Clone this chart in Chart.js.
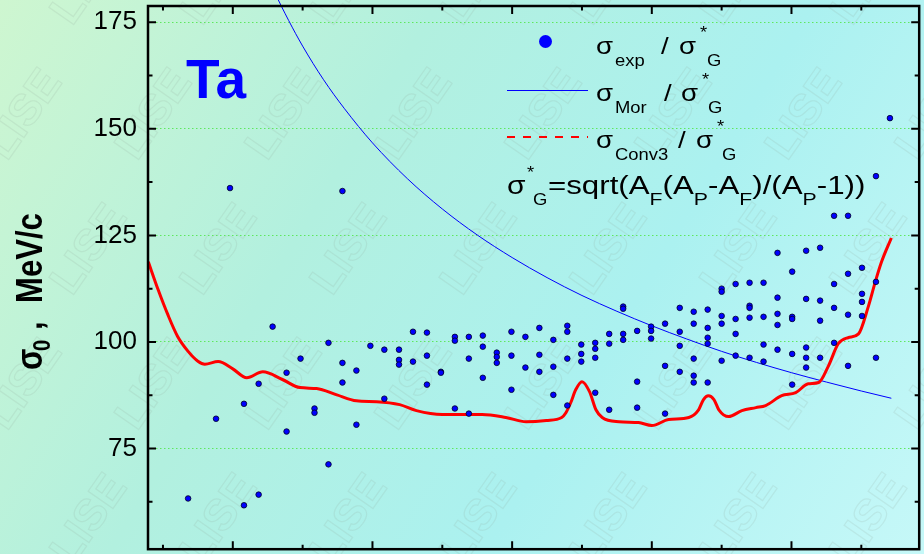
<!DOCTYPE html>
<html>
<head>
<meta charset="utf-8">
<script src="https://cdn.jsdelivr.net/npm/chart.js@4.4.1/dist/chart.umd.min.js"></script>
<style>
html, body { margin: 0; padding: 0; background: #b4f0e6; }
#caja { width: 924px; height: 554px; }
</style>
</head>
<body>
<div id="caja"><canvas id="grafica" width="924" height="554"></canvas></div>
<script>
// sigma_exp / sigma_G* : mass number of fragment and value
const expA = [
    13.6, 17.6, 19.6, 21.6, 21.6, 23.7, 23.7, 25.7, 27.7, 27.7,
    29.7, 31.7, 31.7, 33.7, 33.7, 35.7, 35.7, 35.7, 37.7, 37.7,
    39.7, 41.7, 41.7, 43.8, 43.8, 43.8, 45.8, 45.8, 47.8, 47.8, 47.8,
    49.8, 49.8, 51.8, 51.8, 51.8, 53.8, 53.8, 53.8, 55.8, 55.8, 55.8,
    57.8, 57.8, 57.8, 59.9, 59.9, 59.9, 61.9, 61.9, 63.9, 63.9, 63.9,
    65.9, 65.9, 65.9, 67.9, 67.9, 67.9, 67.9, 69.9, 69.9, 69.9,
    71.9, 71.9, 71.9, 71.9, 73.9, 73.9, 73.9, 75.9, 75.9, 75.9, 75.9,
    77.9, 77.9, 77.9, 79.9, 79.9, 79.9, 81.9, 81.9, 81.9,
    84.0, 84.0, 84.0, 84.0, 86.0, 86.0, 86.0, 86.0, 86.0,
    88.0, 88.0, 88.0, 88.0, 88.0, 90.0, 90.0, 90.0, 90.0, 90.0,
    92.0, 92.0, 92.0, 92.0, 94.0, 94.0, 94.0, 94.0, 94.0,
    96.0, 96.0, 96.0, 96.0, 98.0, 98.0, 98.0, 98.0, 98.0,
    100.1, 100.1, 100.1, 100.1, 100.1, 102.1, 102.1, 102.1, 102.1, 102.1,
    104.1, 104.1, 104.1, 104.1, 106.1, 106.1, 106.1, 106.1,
    108.1, 108.1, 108.1, 108.1, 110.1, 110.1, 110.1, 110.1,
    112.1, 112.1, 112.1, 114.1
];
const expSigma = [
    63.3, 82.0, 136.1, 85.5, 61.7, 90.2, 64.2, 103.6, 92.8, 79.0,
    96.1, 84.4, 83.4, 99.8, 71.3, 95.1, 90.5, 135.4, 93.3, 80.6,
    99.1, 98.2, 86.7, 98.2, 95.8, 94.7, 102.4, 95.4, 102.2, 96.8, 90.0,
    93.0, 92.8, 101.2, 100.3, 84.4, 101.2, 96.1, 83.2, 101.5, 98.9, 91.6,
    97.5, 96.5, 95.1, 102.4, 96.8, 88.8, 101.2, 94.0, 103.3, 97.0, 93.0,
    100.5, 94.2, 87.6, 103.8, 102.4, 96.1, 85.1, 99.4, 97.2, 95.4,
    99.8, 98.4, 96.3, 88.1, 101.9, 99.6, 84.1, 108.3, 107.8, 101.9, 100.5,
    102.6, 90.7, 84.6, 103.6, 102.6, 100.8, 104.3, 94.4, 83.2,
    108.0, 102.4, 99.1, 93.0, 107.1, 104.3, 96.1, 92.1, 90.5,
    107.6, 103.3, 101.0, 99.6, 90.5, 112.5, 111.8, 106.1, 104.3, 95.6,
    113.6, 105.4, 101.9, 96.8, 113.9, 108.5, 108.0, 105.7, 96.3,
    113.9, 105.9, 99.4, 95.4, 120.9, 110.4, 106.6, 104.0, 98.2,
    116.5, 105.9, 105.4, 97.2, 90.0, 121.4, 110.1, 98.7, 96.3, 94.0,
    122.1, 109.7, 105.0, 96.3, 129.6, 113.6, 108.0, 99.8,
    129.6, 116.0, 106.4, 94.4, 117.4, 111.3, 109.4, 106.1,
    138.9, 114.1, 96.3, 152.5
];

// sigma_Mor / sigma_G*
const morA = [24, 26, 28, 30, 33, 36, 40, 45, 50, 55, 60, 65, 70, 75, 80, 85, 90, 95, 100, 105, 110, 114.3];
const morSigma = [189.4, 182.0, 175.4, 169.4, 161.5, 154.7, 146.7, 138.3, 131.2, 125.1, 119.8, 115.1,
    110.9, 107.2, 103.8, 100.7, 97.8, 95.2, 92.8, 90.6, 88.5, 86.8];

// sigma_Conv3 / sigma_G*
const convA = [7.9, 9.3, 10.7, 12.1, 13.6, 15.0, 16.0, 17.9, 20.0, 22.0, 24.3, 27.1, 29.6, 32.0,
    34.9, 37.7, 40.6, 43.9, 46.3, 50.0, 55.7, 59.1, 62.0, 64.9, 67.1, 67.7, 68.4, 69.1, 70.0,
    71.1, 72.0, 72.9, 75.3, 78.1, 80.0, 82.4, 85.3, 86.7, 87.4, 88.1, 88.9, 89.6, 91.0, 92.9,
    94.9, 96.3, 98.6, 100.6, 102.4, 103.9, 105.3, 106.7, 108.1, 109.6, 111.0, 112.0, 112.9, 114.3];
const convSigma = [118.8, 112.3, 106.4, 101.3, 97.8, 95.5, 94.8, 95.4, 93.7, 91.6, 93.0, 91.2, 89.3, 89.1,
    87.6, 86.2, 86.0, 85.3, 83.9, 83.0, 83.0, 82.3, 81.3, 81.6, 82.3, 83.4, 85.8, 88.8, 90.7,
    88.3, 84.1, 82.3, 81.3, 81.1, 80.4, 81.8, 82.3, 84.1, 86.5, 87.4, 86.5, 84.1, 82.5, 83.9,
    84.6, 85.1, 87.4, 88.1, 90.2, 90.5, 94.4, 99.6, 101.0, 101.9, 108.3, 114.1, 118.8, 124.4];

const yMajor = [75, 100, 125, 150, 175];
const yMinor = [62.5, 87.5, 112.5, 137.5, 162.5];
const xMajor = [20, 40, 60, 80, 100];
const xMinor = [10, 30, 50, 70, 90, 110];

const ff = "'Liberation Sans', Arial, sans-serif";

const fondo = {
    id: 'fondo',
    beforeDraw(chart) {
        const ctx = chart.ctx;
        const g = ctx.createLinearGradient(0, 0, 924, 554);
        g.addColorStop(0, '#cef6d0');
        g.addColorStop(0.35, '#b2f0df');
        g.addColorStop(0.65, '#abf1f0');
        g.addColorStop(1, '#c6f8f8');
        ctx.save();
        ctx.fillStyle = g;
        ctx.fillRect(0, 0, 924, 554);
        // watermark
        ctx.font = 'bold 44px ' + ff;
        ctx.textAlign = 'center';
        ctx.textBaseline = 'middle';
        ctx.strokeStyle = 'rgba(140,160,150,0.16)';
        ctx.lineWidth = 1.2;
        let fila = 0;
        for (let y = -20; y < 620; y += 135) {
            for (let x = -40 + (fila % 2) * 65; x < 980; x += 130) {
                ctx.save();
                ctx.translate(x, y);
                ctx.rotate(-55 * Math.PI / 180);
                ctx.strokeText('LISE', 0, 0);
                ctx.restore();
            }
            fila++;
        }
        ctx.restore();
    }
};

const marco = {
    id: 'marco',
    afterDraw(chart) {
        const ctx = chart.ctx;
        const a = chart.chartArea;
        const sx = chart.scales.x, sy = chart.scales.y;
        ctx.save();
        ctx.strokeStyle = '#000';
        ctx.lineWidth = 2.5;
        ctx.strokeRect(a.left, a.top, a.right - a.left, a.bottom - a.top);
        ctx.lineWidth = 2;
        ctx.beginPath();
        const marcasY = (lista, largo) => lista.forEach(v => {
            const p = sy.getPixelForValue(v);
            ctx.moveTo(a.left, p); ctx.lineTo(a.left + largo, p);
            ctx.moveTo(a.right, p); ctx.lineTo(a.right - largo, p);
        });
        const marcasX = (lista, largo) => lista.forEach(v => {
            const p = sx.getPixelForValue(v);
            ctx.moveTo(p, a.top); ctx.lineTo(p, a.top + largo);
            ctx.moveTo(p, a.bottom); ctx.lineTo(p, a.bottom - largo);
        });
        marcasY(yMajor, 8); marcasY(yMinor, 4.5);
        marcasX(xMajor, 8); marcasX(xMinor, 4.5);
        ctx.stroke();

        // Ta
        ctx.fillStyle = '#0000ff';
        ctx.font = 'bold 55px ' + ff;
        ctx.textAlign = 'left';
        ctx.textBaseline = 'alphabetic';
        ctx.fillText('Ta', 186, 98);

        // y axis title
        ctx.fillStyle = '#000';
        ctx.save();
        ctx.translate(42, 370);
        ctx.rotate(-Math.PI / 2);
        const rot = (t, x, y, f) => {
            ctx.save(); ctx.translate(x, y); ctx.scale(0.84, 1);
            ctx.font = f; ctx.fillText(t, 0, 0); ctx.restore();
        };
        rot('σ', 0, 0, 'bold 37px ' + ff);
        rot('0', 19, 8, 'bold 24px ' + ff);
        rot(',', 40, 0, 'bold 37px ' + ff);
        rot('MeV/c', 67, 0, 'bold 37px ' + ff);
        ctx.restore();

        // legend
        const pon = (t, x, y, size, st) => {
            ctx.save(); ctx.translate(x, y); ctx.scale(st, 1);
            ctx.font = size + 'px ' + ff; ctx.fillText(t, 0, 0); ctx.restore();
        };
        ctx.fillStyle = '#0000ff';
        ctx.beginPath(); ctx.arc(545.5, 41.5, 6.5, 0, Math.PI * 2); ctx.fill();
        ctx.strokeStyle = '#0000ff'; ctx.lineWidth = 1;
        ctx.beginPath(); ctx.moveTo(507, 90.5); ctx.lineTo(588, 90.5); ctx.stroke();
        ctx.strokeStyle = '#ff0000'; ctx.lineWidth = 2; ctx.setLineDash([8, 8]);
        ctx.beginPath(); ctx.moveTo(507, 137); ctx.lineTo(588, 137); ctx.stroke();
        ctx.setLineDash([]);

        ctx.fillStyle = '#000';
        const filas = [
            { sub: 'exp', b: 54, slash: 661, sig: 679, star: 700, g: 707 },
            { sub: 'Mor', b: 101, slash: 664, sig: 681, star: 702, g: 708 },
            { sub: 'Conv3', b: 148, slash: 678, sig: 696, star: 717, g: 722 }
        ];
        filas.forEach(f => {
            pon('σ', 596, f.b, 24, 1.15);
            pon(f.sub, 615, f.b + 12, 16, 1.15);
            pon('/', f.slash, f.b, 24, 1.15);
            pon('σ', f.sig, f.b, 24, 1.15);
            pon('*', f.star, f.b - 16, 16, 1.15);
            pon('G', f.g, f.b + 12, 16, 1.15);
        });

        // sigma_G* formula
        const st = 1.25;
        let x = 548;
        const base = 194;
        const seq = (t, size, y) => {
            pon(t, x, y, size, st);
            ctx.font = size + 'px ' + ff;
            x += ctx.measureText(t).width * st;
        };
        pon('σ', 507, base, 25, 1.2);
        pon('*', 527, base - 16, 16, 1.15);
        pon('G', 533, base + 11, 16, 1.15);
        seq('=sqrt(A', 25, base);
        seq('F', 17, base + 11);
        seq('(A', 25, base);
        seq('P', 17, base + 11);
        seq('-A', 25, base);
        seq('F', 17, base + 11);
        seq(')/(A', 25, base);
        seq('P', 17, base + 11);
        seq('-1))', 25, base);
        ctx.restore();
    }
};

const datos = {
    datasets: [
        {
            label: 'sigma_exp / sigma_G*',
            data: expA.map((a, i) => ({ x: a, y: expSigma[i] })),
            pointRadius: 2.8,
            pointBackgroundColor: '#0000ff',
            pointBorderColor: '#000022',
            pointBorderWidth: 0.8,
            order: 0
        },
        {
            label: 'sigma_Mor / sigma_G*',
            data: morA.map((a, i) => ({ x: a, y: morSigma[i] })),
            showLine: true,
            borderColor: '#0000ff',
            borderWidth: 1,
            pointRadius: 0,
            cubicInterpolationMode: 'monotone',
            clip: false,
            order: 2
        },
        {
            label: 'sigma_Conv3 / sigma_G*',
            data: convA.map((a, i) => ({ x: a, y: convSigma[i] })),
            showLine: true,
            borderColor: '#ff0000',
            borderWidth: 3,
            pointRadius: 0,
            cubicInterpolationMode: 'monotone',
            order: 1
        }
    ]
};

const grafica = new Chart(document.getElementById('grafica'), {
    type: 'scatter',
    data: datos,
    plugins: [fondo, marco],
    options: {
        responsive: false,
        animation: false,
        layout: { padding: { top: 6, right: 3, left: 0, bottom: 0 } },
        plugins: {
            legend: { display: false },
            tooltip: { enabled: false }
        },
        scales: {
            x: {
                type: 'linear',
                min: 7.857,
                max: 118.29,
                ticks: { display: false },
                grid: { display: false },
                border: { display: false },
                afterFit: (s) => { s.height = 4; s.paddingLeft = 0; s.paddingRight = 0; }
            },
            y: {
                type: 'linear',
                min: 51.4,
                max: 178.8,
                afterBuildTicks: (s) => { s.ticks = yMajor.map(v => ({ value: v })); },
                afterFit: (s) => { s.width = 148; s.paddingTop = 0; s.paddingBottom = 0; },
                ticks: { padding: 11, color: '#000', font: { family: ff, size: 26 } },
                grid: { color: '#5ee85e', lineWidth: 1, drawTicks: false },
                border: { display: false, dash: [1.5, 2.5] }
            }
        }
    }
});
</script>
</body>
</html>
